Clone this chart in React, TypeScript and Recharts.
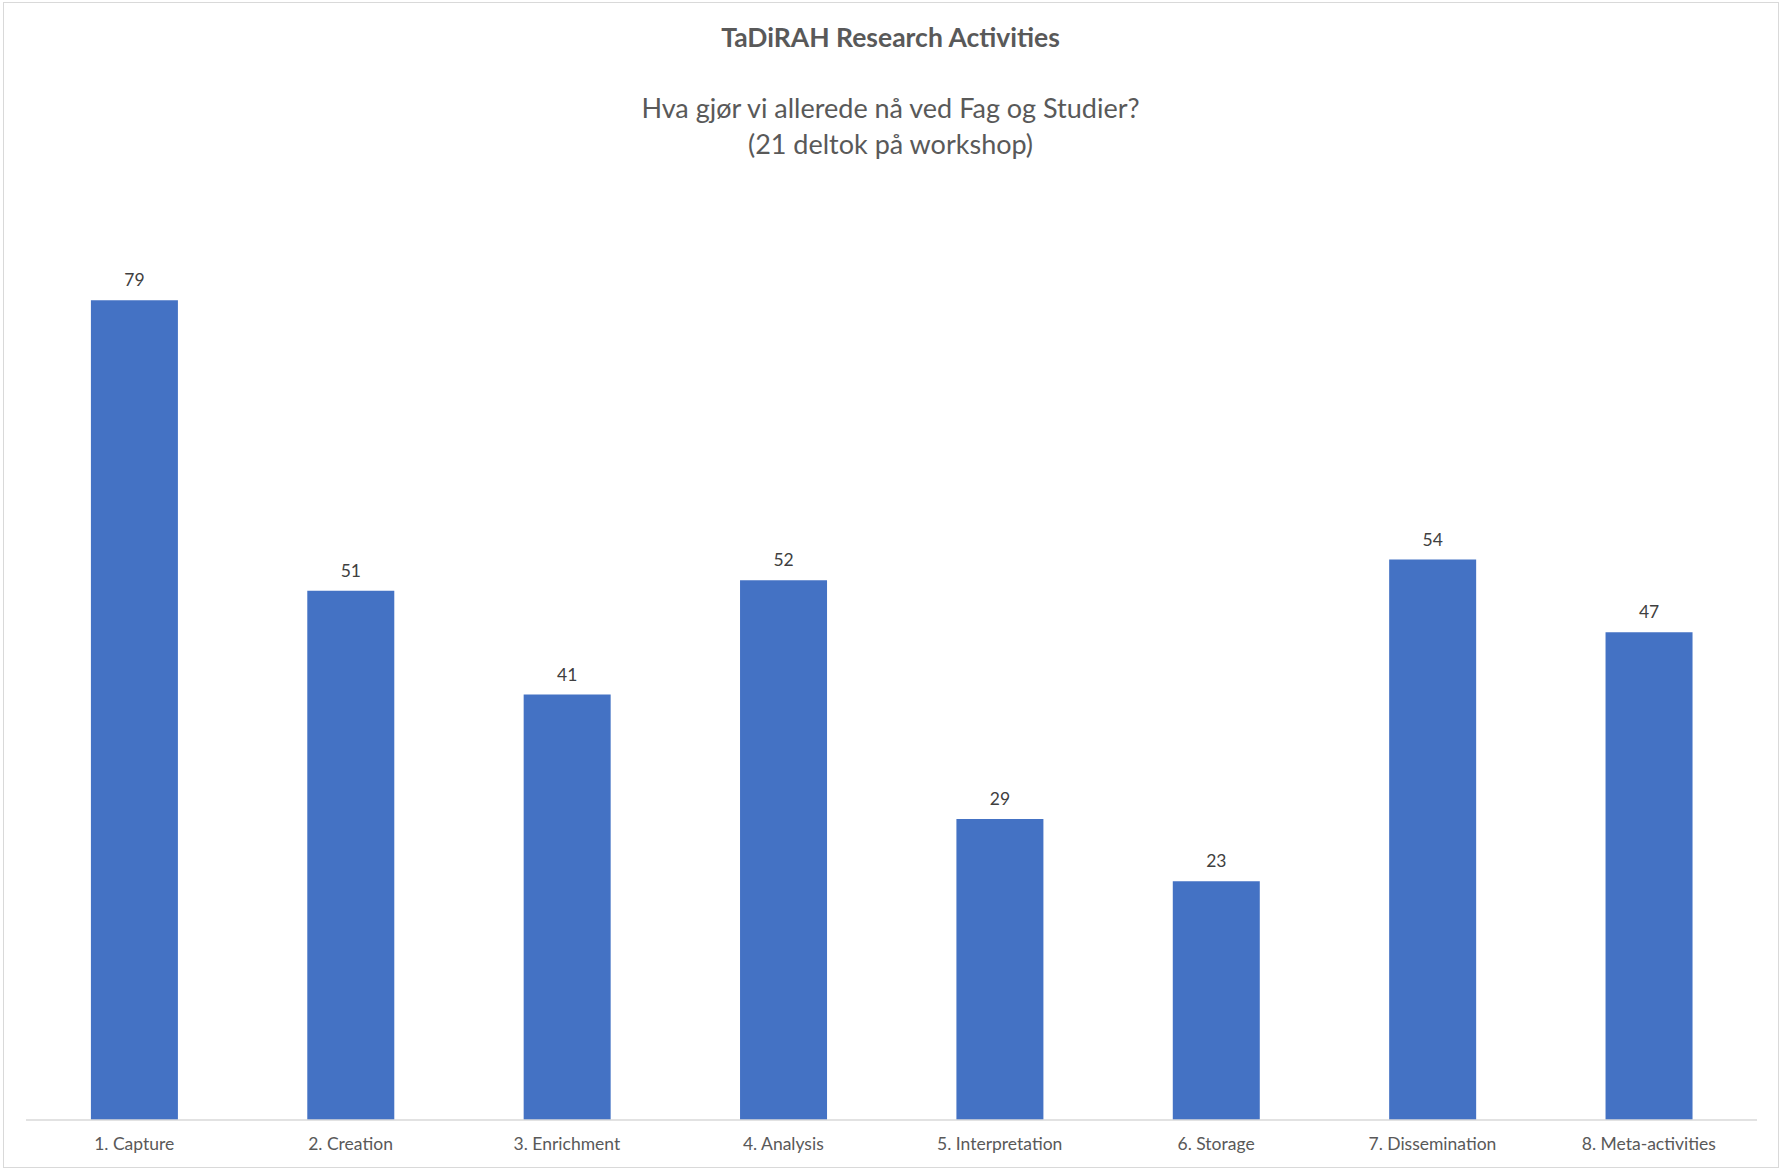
import React from "react";
import { BarChart, Bar, XAxis, YAxis, LabelList } from "recharts";

const categories = [
  "1. Capture",
  "2. Creation",
  "3. Enrichment",
  "4. Analysis",
  "5. Interpretation",
  "6. Storage",
  "7. Dissemination",
  "8. Meta-activities",
];
const values = [79, 51, 41, 52, 29, 23, 54, 47];
const title = "TaDiRAH Research Activities";
const subtitleLines = ["Hva gjør vi allerede nå ved Fag og Studier?", "(21 deltok på workshop)"];

const data = categories.map((c, i) => ({ name: c, value: values[i] }));

const FONT = "Lato, 'Open Sans', sans-serif";

export default function App() {
  return (
    <div
      style={{
        position: "absolute",
        left: 0,
        top: 0,
        width: 1781,
        height: 1170,
        background: "#fff",
        fontFamily: FONT,
      }}
    >
      <div
        style={{
          position: "absolute",
          left: 3,
          top: 2,
          width: 1774,
          height: 1164,
          border: "1px solid #d9d9d9",
        }}
      />
      <div
        style={{
          position: "absolute",
          left: 0,
          width: 1781,
          top: 21,
          textAlign: "center",
          fontSize: 26.5,
          fontWeight: 700,
          color: "#595959",
          lineHeight: "32px",
        }}
      >
        {title}
      </div>
      <div
        style={{
          position: "absolute",
          left: 0,
          width: 1781,
          top: 90,
          textAlign: "center",
          fontSize: 27,
          color: "#595959",
          lineHeight: "36px",
        }}
      >
        {subtitleLines.map((l, i) => (
          <div key={i}>{l}</div>
        ))}
      </div>
      <div style={{ position: "absolute", left: 0, top: 0 }}>
        <BarChart
          width={1781}
          height={1170}
          data={data}
          margin={{ top: 186, right: 24, left: 26, bottom: 10 }}
          barCategoryGap="30%"
        >
          <XAxis
            dataKey="name"
            axisLine={{ stroke: "#d9d9d9", strokeWidth: 1.5 }}
            tickLine={false}
            tickMargin={12}
            height={40}
            interval={0}
            tick={{ fill: "#595959", fontSize: 17.5, fontFamily: FONT }}
          />
          <YAxis hide domain={[0, 90]} />
          <Bar dataKey="value" fill="#4472C4" isAnimationActive={false}>
            <LabelList
              dataKey="value"
              position="top"
              offset={14}
              fill="#404040"
              fontSize={17.5}
              fontFamily={FONT}
            />
          </Bar>
        </BarChart>
      </div>
    </div>
  );
}
